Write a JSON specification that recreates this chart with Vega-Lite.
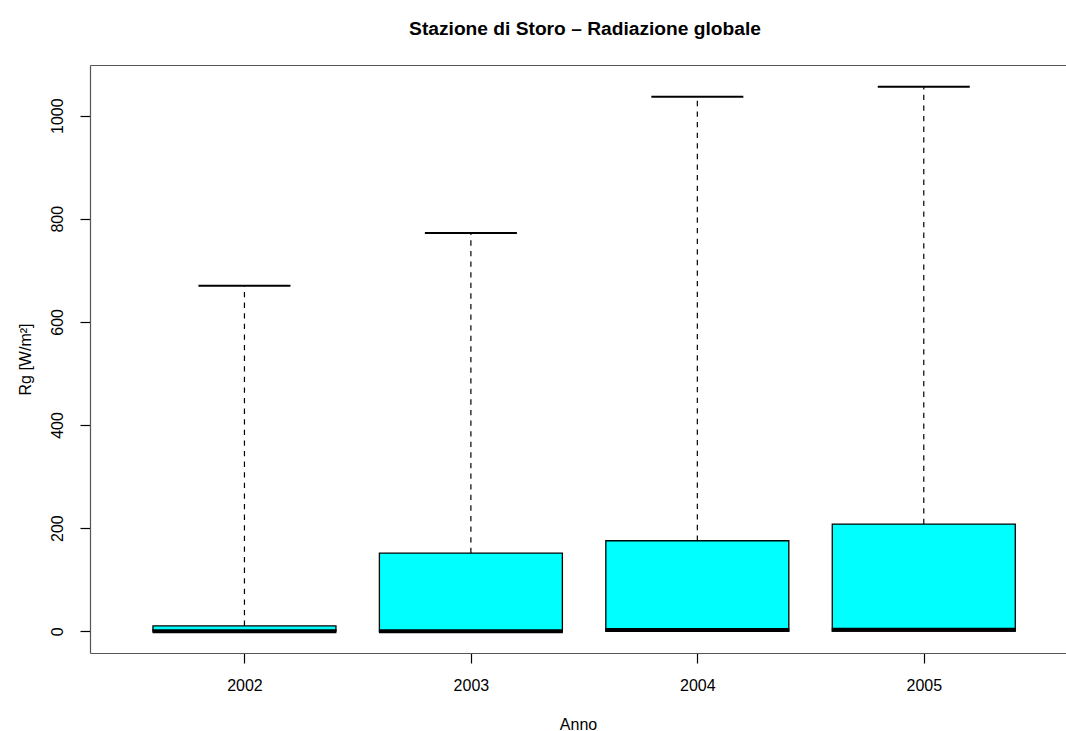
{
  "$schema": "https://vega.github.io/schema/vega-lite/v6.json",
  "width": 976,
  "height": 588,
  "autosize": {"type": "none"},
  "padding": {"left": 90, "top": 65, "right": 0, "bottom": 78},
  "background": "white",
  "config": {
    "view": {"stroke": null},
    "font": "Liberation Sans",
    "axis": {"grid": false, "domainColor": "#000000", "tickColor": "#000000", "labelColor": "#000000", "titleColor": "#000000", "labelFont": "Liberation Sans", "titleFont": "Liberation Sans", "labelFontSize": 16, "titleFontSize": 16, "titleFontWeight": "normal", "tickSize": 10, "domainWidth": 1.2, "tickWidth": 1.2}
  },
  "title": {"text": "Stazione di Storo – Radiazione globale", "fontSize": 19.2, "fontWeight": "bold", "font": "Liberation Sans", "color": "#000000", "offset": 25.5, "dx": 7},
  "data": {"values": [
    {"anno": 1, "min": 0, "q1": 0, "median": 0, "q3": 10.3, "max": 670},
    {"anno": 2, "min": 0, "q1": 0, "median": 0, "q3": 151.6, "max": 772.6},
    {"anno": 3, "min": 0, "q1": 0, "median": 2.5, "q3": 175.5, "max": 1036.8},
    {"anno": 4, "min": 0, "q1": 0, "median": 3, "q3": 207.8, "max": 1056}
  ]},
  "resolve": {"axis": {"x": "independent"}},
  "layer": [
    {
      "mark": {"type": "rule", "strokeDash": [5.3, 5.3], "color": "#000000", "strokeWidth": 1.2},
      "encoding": {
        "x": {"field": "anno", "type": "quantitative", "scale": {"domain": [0.34, 4.606], "nice": false, "zero": false},
          "axis": {"values": [1, 2, 3, 4], "labelExpr": "datum.value + 2001", "title": "Anno", "labelPadding": 14, "titlePadding": 23, "domainColor": "#555555"}},
        "y": {"field": "q3", "type": "quantitative", "scale": {"domain": [-42.24, 1098.24], "nice": false, "zero": false},
          "axis": {"values": [0, 200, 400, 600, 800, 1000], "format": "d", "labelAngle": -90, "labelAlign": "center", "labelBaseline": "bottom", "labelPadding": 15, "title": "Rg [W/m²]", "titlePadding": 16, "domainColor": "#555555"}},
        "y2": {"field": "max"}
      }
    },
    {
      "mark": {"type": "bar", "width": 183, "fill": "#00FFFF", "stroke": "#000000", "strokeWidth": 1.3},
      "encoding": {
        "x": {"field": "anno", "type": "quantitative", "axis": {"orient": "top", "labels": false, "ticks": false, "title": null, "domainColor": "#555555"}},
        "y": {"field": "q1", "type": "quantitative"},
        "y2": {"field": "q3"}
      }
    },
    {
      "mark": {"type": "tick", "orient": "horizontal", "size": 92, "thickness": 2, "color": "#000000", "opacity": 1},
      "encoding": {
        "x": {"field": "anno", "type": "quantitative", "axis": null},
        "y": {"field": "max", "type": "quantitative"}
      }
    },
    {
      "mark": {"type": "tick", "orient": "horizontal", "size": 184, "thickness": 4, "color": "#000000", "opacity": 1},
      "encoding": {
        "x": {"field": "anno", "type": "quantitative", "axis": null},
        "y": {"field": "median", "type": "quantitative"}
      }
    }
  ]
}
